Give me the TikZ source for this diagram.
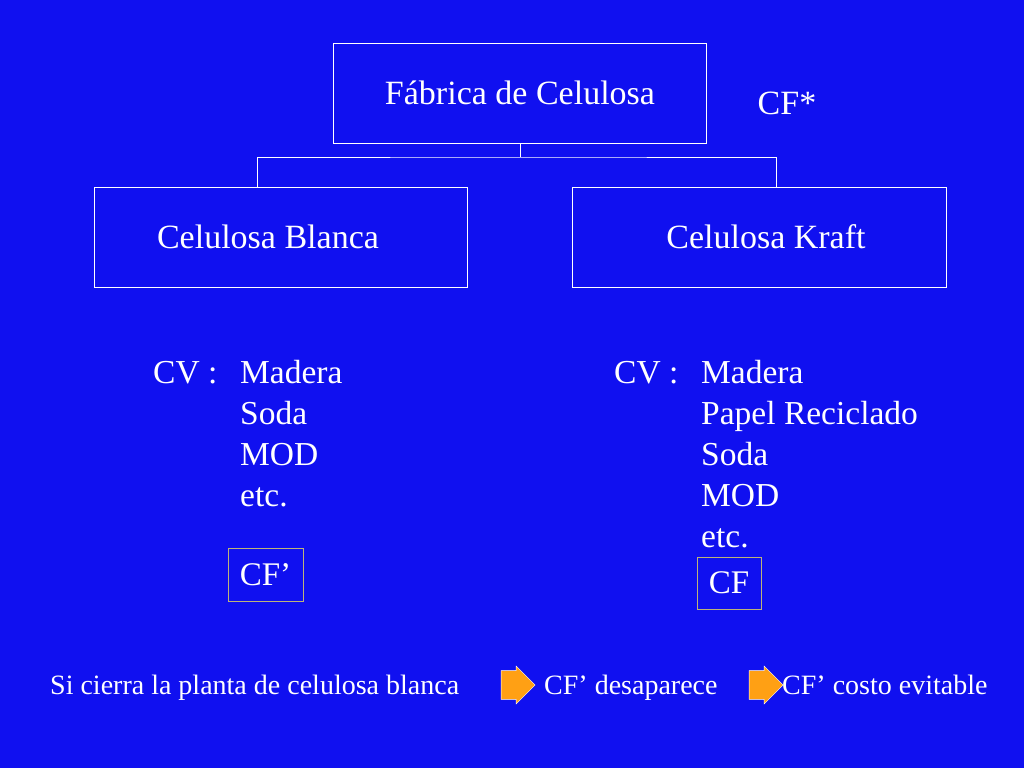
\documentclass[tikz,border=0pt]{standalone}
\usepackage{fontspec}
\setmainfont{Liberation Serif}
\usetikzlibrary{positioning,shapes.arrows}
\definecolor{slide}{RGB}{16,16,240}
\definecolor{cfline}{RGB}{190,180,120}
\definecolor{arrowor}{RGB}{255,160,20}
\tikzset{
  unit/.style={rectangle, draw=white, thin, text=white, minimum width=373pt, minimum height=100pt, font=\fontsize{34}{38}\selectfont},
  cfbox/.style={rectangle, draw=cfline, line width=1pt, text=white, inner sep=0pt, font=\fontsize{33}{38}\selectfont},
  item/.style={anchor=base west, text=white, inner sep=0pt, font=\fontsize{33.5}{38}\selectfont},
  note/.style={anchor=base west, text=white, inner sep=0pt, font=\fontsize{28}{32}\selectfont},
  go/.style={single arrow, draw=white, fill=arrowor, minimum height=34pt, minimum width=38pt, single arrow head extend=2pt, inner sep=6pt},
  link/.style={draw=white, thin}
}
\begin{document}
\begin{tikzpicture}[x=1pt,y=-1pt]
  \fill[slide] (0,0) rectangle (1024,768);
  \useasboundingbox (0,0) rectangle (1024,768);

  % plant and its two lines
  \node[unit] (plant) at (520,93) {Fábrica de Celulosa};
  \node[unit,minimum width=373pt] (white) at (281,237) {\hspace*{-26pt}Celulosa Blanca};
  \node[unit,minimum width=374pt] (kraft) at (759,237) {\hspace*{14pt}Celulosa Kraft};
  \node[text=white, font=\fontsize{34}{38}\selectfont] (cfs) at (787,103) {CF*};

  \coordinate (fork) at (520,157);
  \draw[link] (plant.south) -- (fork);
  \draw[link] (white.north -| 257,0) |- (fork) -| (kraft.north -| 776,0);

  % variable costs, white pulp
  \node[item] (cvw) at (153,383) {CV :};
  \foreach \t [count=\i from 0] in {Madera,Soda,MOD,etc.}
    \node[item] (w\i) at (240,383+41*\i) {\t};
  \node[cfbox, minimum width=75pt, minimum height=53pt] (cfw) at (265.5,574.5) {CF’};

  % variable costs, kraft pulp
  \node[item] (cvk) at (614,383) {CV :};
  \foreach \t [count=\i from 0] in {Madera,Papel Reciclado,Soda,MOD,etc.}
    \node[item] (k\i) at (701,383+41*\i) {\t};
  \node[cfbox, minimum width=64pt, minimum height=52pt] (cfk) at (729,583) {CF};

  % conclusion
  \node[note] (close) at (50,694) {Si cierra la planta de celulosa blanca};
  \node[go] (go1) at (511,685) {};
  \node[note] (gone) at (544,694) {CF’ desaparece};
  \node[go] (go2) at (759,685) {};
  \node[note] (avoid) at (782,694) {CF’ costo evitable};
\end{tikzpicture}
\end{document}
